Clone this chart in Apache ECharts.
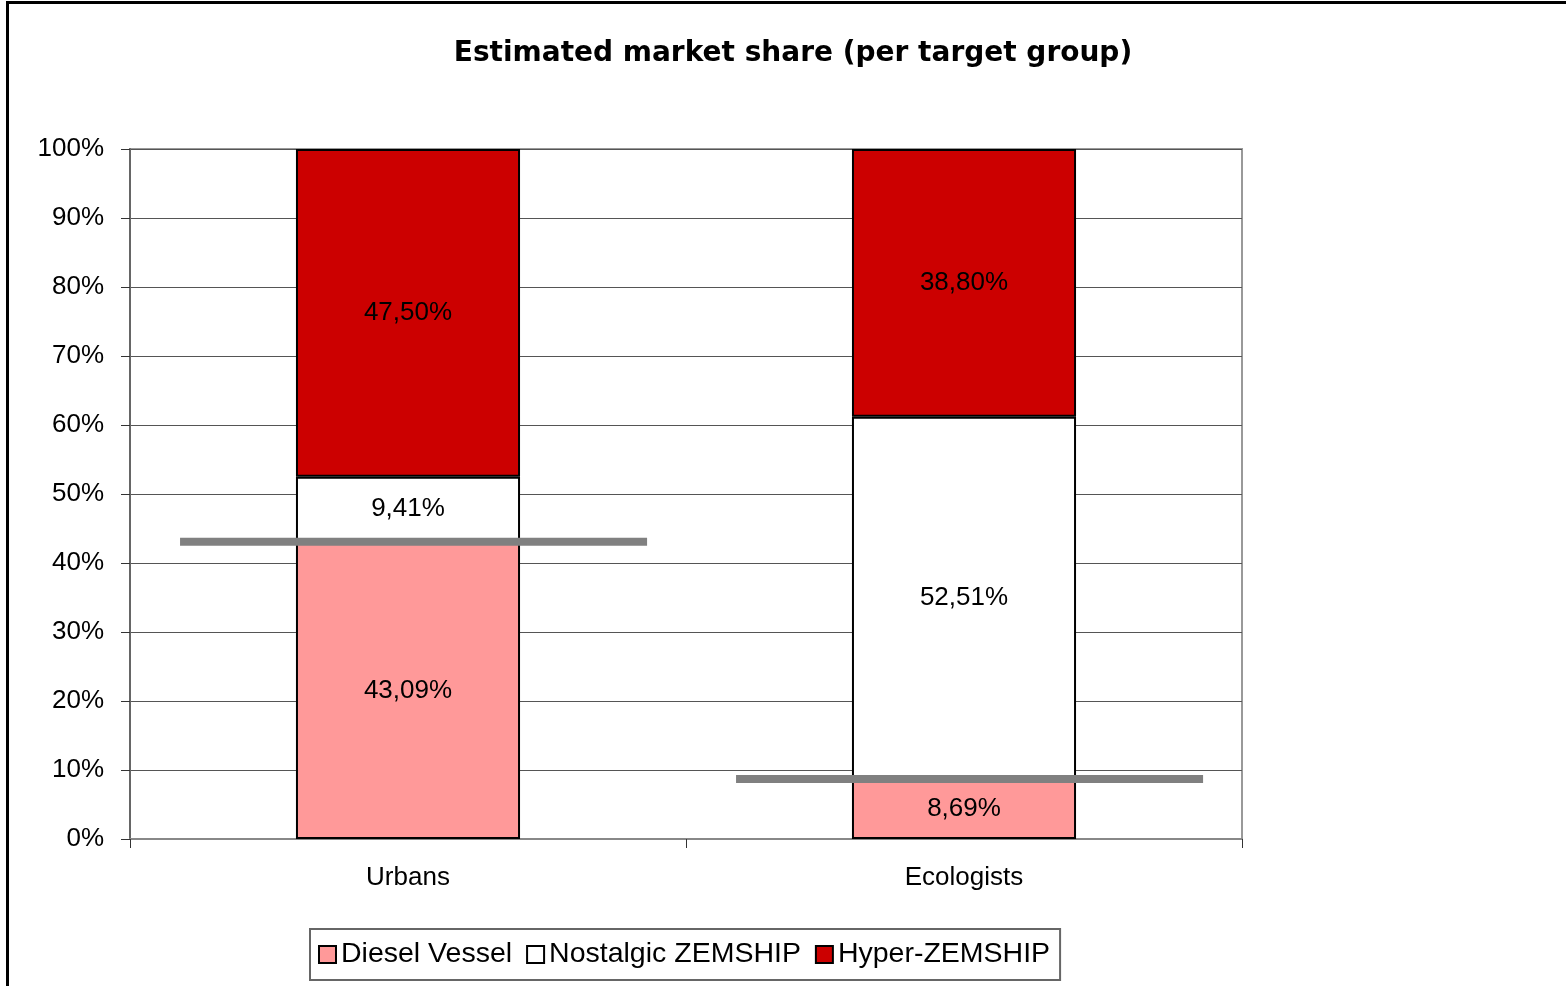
<!DOCTYPE html>
<html>
<head>
<meta charset="utf-8">
<script src="https://cdn.jsdelivr.net/npm/echarts@6/dist/echarts.min.js"></script>
<style>
  html, body { margin: 0; padding: 0; background: #fff; }
  #chart { width: 1566px; height: 986px; }
</style>
</head>
<body>
<div id="chart"></div>
<script>
// data
const categories = ['Urbans', 'Ecologists'];
const dieselVessel = [43.09, 8.69];
const nostalgicZemship = [9.41, 52.51];
const hyperZemship = [47.50, 38.80];
const yTicks = [0, 10, 20, 30, 40, 50, 60, 70, 80, 90, 100];

const fmt = v => v.toFixed(2).replace('.', ',') + '%';
const font = 'Liberation Sans, Arial, sans-serif';

const barLabel = {
    show: true,
    position: 'inside',
    color: '#000',
    fontSize: 26,
    fontFamily: font,
    formatter: p => fmt(p.value)
};
const barStyle = color => ({ color: color, borderColor: '#000', borderWidth: 2 });

const chart = echarts.init(document.getElementById('chart'));
chart.setOption({
    backgroundColor: '#fff',
    animation: false,
    graphic: [{
        type: 'rect',
        shape: { x: 7.5, y: 2.5, width: 1600, height: 1100 },
        style: { fill: 'none', stroke: '#000', lineWidth: 3 },
        silent: true
    }],
    title: {
        text: 'Estimated market share (per target group)',
        left: 788,
        top: 35,
        textAlign: 'center',
        textStyle: { fontFamily: 'DejaVu Sans, Verdana, sans-serif', fontSize: 28, fontWeight: 'bold', color: '#000' }
    },
    legend: {
        bottom: 6,
        left: 310,
        itemWidth: 17,
        itemHeight: 17,
        itemGap: 14,
        padding: [11, 10, 11, 8],
        borderColor: '#666',
        borderWidth: 2,
        icon: 'rect',
        textStyle: { fontFamily: font, fontSize: 28.5, color: '#000' },
        data: ['Diesel Vessel', 'Nostalgic ZEMSHIP', 'Hyper-ZEMSHIP']
    },
    grid: {
        left: 130, right: 324, top: 149, bottom: 147,
        show: true, borderColor: '#999', borderWidth: 2, backgroundColor: '#fff'
    },
    xAxis: {
        type: 'category',
        data: categories,
        axisLine: { lineStyle: { color: '#888', width: 2 } },
        axisTick: { show: true, length: 9, lineStyle: { color: '#333' } },
        axisLabel: { color: '#000', fontSize: 26, fontFamily: font, margin: 26 },
        splitLine: { show: false }
    },
    yAxis: {
        type: 'value',
        min: 0,
        max: 100,
        interval: 10,
        axisLine: { show: true, lineStyle: { color: '#666', width: 2 } },
        axisTick: { show: true, length: 9, lineStyle: { color: '#333' } },
        axisLabel: {
            color: '#000', fontSize: 26, fontFamily: font, margin: 26,
            formatter: v => yTicks.includes(v) ? v + '%' : ''
        },
        splitLine: { lineStyle: { color: '#555', width: 1 } }
    },
    series: [
        {
            name: 'Diesel Vessel', type: 'bar', stack: 'share', barWidth: '40.3%',
            data: dieselVessel, itemStyle: barStyle('#FF9999'), label: barLabel
        },
        {
            name: 'Nostalgic ZEMSHIP', type: 'bar', stack: 'share',
            data: nostalgicZemship, itemStyle: barStyle('#FFFFFF'), label: barLabel
        },
        {
            name: 'Hyper-ZEMSHIP', type: 'bar', stack: 'share',
            data: hyperZemship, itemStyle: barStyle('#CC0000'), label: barLabel
        },
        {
            // gray marker line at the diesel level of each group
            type: 'custom',
            silent: true,
            z: 10,
            data: dieselVessel.map((v, i) => [i, v]),
            renderItem: (params, api) => {
                const c = api.coord([api.value(0), api.value(1)]);
                const band = api.size([1, 0])[0];
                return {
                    type: 'line',
                    shape: { x1: c[0] - band * 0.41, y1: c[1], x2: c[0] + band * 0.43, y2: c[1] },
                    style: { stroke: '#808080', lineWidth: 8 }
                };
            }
        }
    ]
});
</script>
</body>
</html>
